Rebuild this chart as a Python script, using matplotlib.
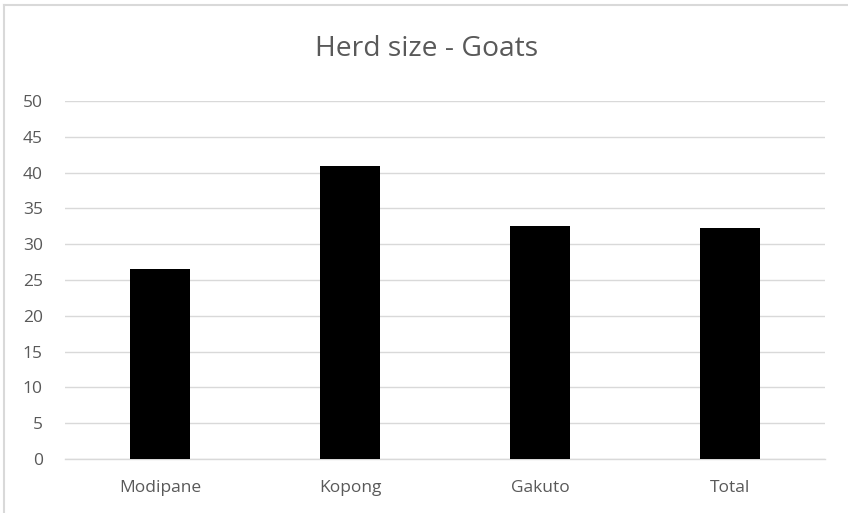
import matplotlib
matplotlib.use("Agg")
import matplotlib.pyplot as plt
from matplotlib.lines import Line2D

categories = ["Modipane", "Kopong", "Gakuto", "Total"]
values = [26.5, 40.9, 32.6, 32.2]
yticks = [0, 5, 10, 15, 20, 25, 30, 35, 40, 45, 50]

plt.rcParams['font.family'] = ['Open Sans', 'DejaVu Sans']

W, H = 848, 513
fig = plt.figure(figsize=(W/100, H/100), dpi=100)
ax = fig.add_axes([65/W, 1-459/H, (825-65)/W, (459-101)/H])

x = list(range(len(categories)))
ax.bar(x, values, width=0.316, color='black', zorder=3)
ax.set_xlim(-0.5, len(categories)-0.5)
ax.set_ylim(0, 50)
ax.set_yticks(yticks)
ax.set_xticks(x)
ax.set_xticklabels(categories)
ax.grid(axis='y', color='#d9d9d9', linewidth=1, zorder=0)
for s in ['top', 'right', 'left']:
    ax.spines[s].set_visible(False)
ax.spines['bottom'].set_color('#d9d9d9')
ax.spines['bottom'].set_linewidth(1)
ax.tick_params(axis='both', length=0, colors='#595959', labelsize=12.5)
ax.tick_params(axis='y', pad=16)
ax.tick_params(axis='x', pad=15)

fig.text(0.5 + 3/W, 1-49/H, "Herd size - Goats", ha='center', va='center', fontsize=20.3, color='#595959')

# outer chart border (only left and top edges visible in the crop)
fig.lines.append(Line2D([3.5/W, 3.5/W], [0, 1-4.5/H], transform=fig.transFigure, color='#d9d9d9', linewidth=1.5))
fig.lines.append(Line2D([3.5/W, 1], [1-4.5/H, 1-4.5/H], transform=fig.transFigure, color='#d9d9d9', linewidth=1.5))

fig.savefig("out.png", dpi=100)
